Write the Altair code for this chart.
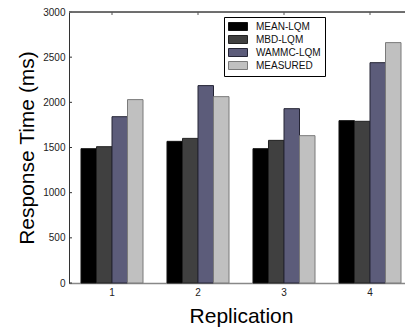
import altair as alt
import pandas as pd

reps = ["1", "2", "3", "4"]
series = ["MEAN-LQM", "MBD-LQM", "WAMMC-LQM", "MEASURED"]
mean_lqm = [1487, 1568, 1487, 1797]
mbd_lqm = [1509, 1601, 1579, 1790]
wammc_lqm = [1841, 2185, 1930, 2439]
measured = [2030, 2063, 1631, 2661]
yticks = [0, 500, 1000, 1500, 2000, 2500, 3000]

fills = ["#000000", "#404040", "#5c5c7a", "#c0c0c0"]
strokes = ["#111111", "#222222", "#252535", "#7a7a7a"]

rows = []
for name, vals in zip(series, [mean_lqm, mbd_lqm, wammc_lqm, measured]):
    for r, v in zip(reps, vals):
        rows.append({"rep": r, "series": name, "value": v})
df = pd.DataFrame(rows)
tick_df = pd.DataFrame({"v": yticks})
rep_df = pd.DataFrame({"rep": reps})

FONT = "Liberation Sans"
W = 336

xscale = alt.Scale(domain=reps, range=[0, 344], paddingInner=0.279, paddingOuter=0.1395)
yscale = alt.Scale(domain=[0, 3000], nice=False)

legend = alt.Legend(
    title=None, orient="none", legendX=155, legendY=5,
    symbolType="M-1,-0.8H2.8V0.8H-1Z", symbolSize=100, symbolStrokeWidth=1,
    labelFont=FONT, labelFontSize=10, labelColor="#111111", labelOffset=17,
    padding=4, rowPadding=0, strokeColor="#000000", fillColor="#ffffff",
    cornerRadius=0,
)

bars = alt.Chart(df).mark_bar(strokeWidth=1, opacity=1).encode(
    x=alt.X("rep:N", scale=xscale, axis=alt.Axis(
        title="Replication", labelAngle=0, labelFont=FONT, labelFontSize=10,
        labelColor="#222222", labelPadding=4, ticks=False, domainColor="#888888",
        domainWidth=1.5, titleFont=FONT, titleFontSize=21, titleFontWeight="normal",
        titleColor="#000000", titlePadding=8, titleX=172, grid=False)),
    xOffset=alt.XOffset("series:N", sort=series, scale=alt.Scale(domain=series, paddingInner=0, paddingOuter=0)),
    y=alt.Y("value:Q", scale=yscale, axis=alt.Axis(
        values=yticks, format="d", title="Response Time (ms)", labelFont=FONT, labelFontSize=10,
        labelColor="#222222", labelPadding=4, ticks=False, domainColor="#333333",
        titleFont=FONT, titleFontSize=21, titleFontWeight="normal", titleColor="#000000",
        titlePadding=5, grid=False)),
    fill=alt.Fill("series:N", sort=series, scale=alt.Scale(domain=series, range=fills), legend=legend),
    stroke=alt.Stroke("series:N", sort=series, scale=alt.Scale(domain=series, range=strokes), legend=legend),
)

ytick_marks = alt.Chart(tick_df).mark_rule(color="#333333", strokeWidth=1).encode(
    y=alt.Y("v:Q", scale=yscale),
    x=alt.value(0), x2=alt.value(3),
)

top_line = alt.Chart(rep_df).mark_rule(color="#666666", strokeWidth=1).encode(
    y=alt.value(0), x=alt.value(0), x2=alt.value(W),
)

top_ticks = alt.Chart(rep_df).mark_rule(color="#555555", strokeWidth=1).encode(
    x=alt.X("rep:N", scale=xscale),
    y=alt.value(0), y2=alt.value(3),
)

chart = alt.layer(bars, ytick_marks, top_line, top_ticks).properties(
    width=W, height=271,
    autosize=alt.AutoSizeParams(type="none"),
    padding={"left": 69, "top": 12, "right": 0, "bottom": 46},
).configure_view(stroke=None).configure(background="white")

chart.save("out.html", embed_options={"renderer": "svg", "actions": False})
